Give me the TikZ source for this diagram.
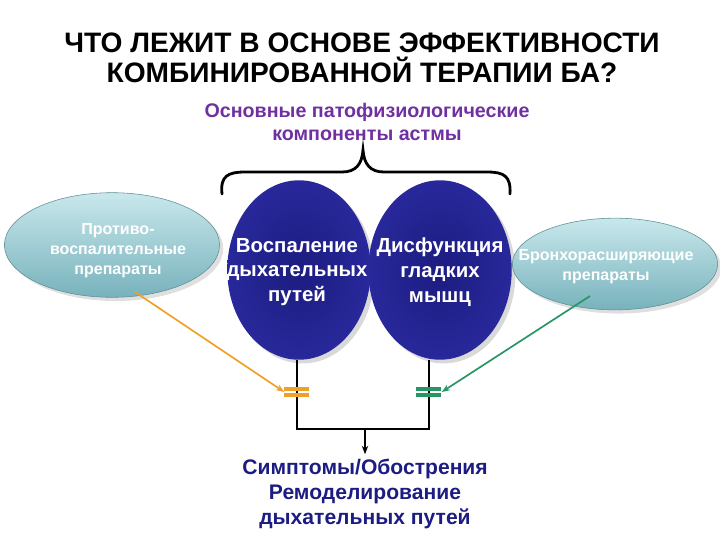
\documentclass[tikz,border=0pt]{standalone}
\usepackage{fontspec}
\setmainfont{Liberation Sans}
\usepackage{xcolor}
\usetikzlibrary{arrows.meta,shapes.geometric,positioning,shadows}
\definecolor{titlepurple}{RGB}{112,48,160}
\definecolor{navy}{RGB}{28,28,130}
\definecolor{ballblue}{RGB}{28,28,128}
\definecolor{balldark}{RGB}{40,40,155}
\definecolor{tealtop}{RGB}{200,232,236}
\definecolor{tealbot}{RGB}{120,178,188}
\definecolor{arroworange}{RGB}{240,160,40}
\definecolor{arrowgreen}{RGB}{40,150,100}

\begin{document}
\begin{tikzpicture}[x=0.025cm,y=-0.025cm,
  comp/.style={ellipse,minimum width=102pt,minimum height=127.6pt,inner sep=0pt,
    inner color=ballblue,outer color=balldark,drop shadow={opacity=0.3}},
  comptext/.style={text=white,align=center,inner sep=0pt,
    font=\fontsize{14.5}{17.7}\selectfont\bfseries},
  drug/.style={ellipse,inner sep=0pt,top color=tealtop,bottom color=tealbot,
    draw=tealbot!80!black,drop shadow={opacity=0.25}},
  drugtext/.style={text=white,align=center,inner sep=0pt,
    font=\fontsize{11.4}{14.2}\selectfont\bfseries},
  eqmark/.style={inner sep=0pt,minimum width=17.7pt,minimum height=5pt}]
\useasboundingbox (0,0) rectangle (720,540);

\node[font=\fontsize{20}{21.3}\selectfont\bfseries,align=center] (title) at (362,58)
  {ЧТО ЛЕЖИТ В ОСНОВЕ ЭФФЕКТИВНОСТИ\\КОМБИНИРОВАННОЙ ТЕРАПИИ БА?};
\node[font=\fontsize{14}{16.3}\selectfont\bfseries,text=titlepurple,align=center] (basis) at (367,122)
  {Основные патофизиологические\\компоненты астмы};

% brace
\draw[line width=2pt,line cap=round] (222,194) .. controls (220,176) and (228,172) .. (245,172)
  -- (342,172) .. controls (356,172) and (362,164) .. (363,150)
  .. controls (364,164) and (370,172) .. (384,172) -- (487,172)
  .. controls (504,172) and (511,176) .. (510,194);

\node[comp] (infl) at (299,270) {};
\node[comptext] (infltext) at (297,272) {Воспаление\\дыхательных\\путей};
\node[comp] (smooth) at (440,270) {};
\node[comptext] (smoothtext) at (440,272) {Дисфункция\\гладких\\мышц};

\node[drug,minimum width=153pt,minimum height=74.4pt] (antiinfl) at (112,245) {};
\node[drugtext] (antiinfltext) at (118,251) {Противо-\\воспалительные\\препараты};
\node[drug,minimum width=146pt,minimum height=65.2pt] (broncho) at (615,264) {};
\node[drugtext] (bronchotext) at (606,267) {Бронхорасширяющие\\препараты};
\coordinate (antiinflout) at (135,292);
\coordinate (bronchoout) at (590,296);

\node[eqmark] (eqL) at (297,392) {};
\node[eqmark] (eqR) at (429,392) {};
\coordinate (cornerL) at (297,429);
\coordinate (cornerR) at (429,429);
\coordinate (joint) at (365,429);

\node[font=\fontsize{15}{17.7}\selectfont\bfseries,text=navy,align=center] (outcome) at (365,494)
  {Симптомы/Обострения\\Ремоделирование\\дыхательных путей};

\draw[line width=1.3pt] (cornerL |- infl.south) -- (cornerL) -- (cornerR) -- (cornerR |- smooth.south);
\draw[line width=1.3pt,-{Stealth[length=6pt]}] (joint) -- (outcome.north);

\draw[arroworange,line width=2.2pt] (eqL.west) ++(0,-3) -- ++(25,0) (eqL.west) ++(0,3) -- ++(25,0);
\draw[arrowgreen,line width=2.2pt] (eqR.west) ++(0,-3) -- ++(25,0) (eqR.west) ++(0,3) -- ++(25,0);

\draw[arroworange,line width=1.2pt,-{Stealth[length=6pt]}] (antiinflout) -- (eqL.west);
\draw[arrowgreen,line width=1.2pt,-{Stealth[length=6pt]}] (bronchoout) -- (eqR.east);
\end{tikzpicture}
\end{document}
